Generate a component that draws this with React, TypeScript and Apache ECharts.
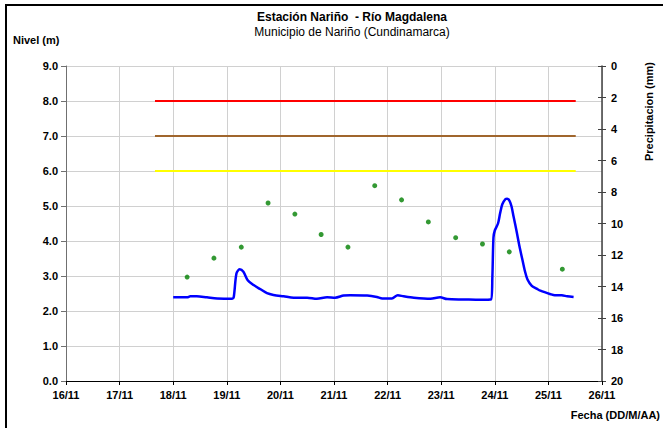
import React, { useEffect, useRef } from "react";
import * as echarts from "echarts";

// X axis: day of November (16 = 16/11 00:00)
const xTickDays = [16, 17, 18, 19, 20, 21, 22, 23, 24, 25, 26];
const xTickLabels = ["16/11", "17/11", "18/11", "19/11", "20/11", "21/11", "22/11", "23/11", "24/11", "25/11", "26/11"];

// River level (m)
const levelTimes = [
  18.0, 18.26, 18.32, 18.44, 18.63, 18.82, 19.1, 19.13, 19.18, 19.24, 19.31, 19.39, 19.5, 19.63,
  19.75, 19.87, 20.06, 20.25, 20.5, 20.68, 20.87, 21.02, 21.18, 21.3, 21.62, 21.8, 21.9, 22.08,
  22.19, 22.3, 22.49, 22.8, 22.98, 23.11, 23.42, 23.73, 23.93, 23.955, 23.975, 24.0, 24.06, 24.1,
  24.14, 24.2, 24.23, 24.27, 24.31, 24.35, 24.41, 24.46, 24.51, 24.56, 24.61, 24.69, 24.78, 24.85,
  25.04, 25.12, 25.25, 25.35, 25.47,
];
const levelValues = [
  2.39, 2.39, 2.42, 2.42, 2.39, 2.36, 2.35, 2.4, 3.07, 3.19, 3.12, 2.88, 2.74, 2.62,
  2.51, 2.46, 2.42, 2.38, 2.38, 2.35, 2.39, 2.38, 2.44, 2.45, 2.44, 2.4, 2.36, 2.36,
  2.45, 2.42, 2.38, 2.35, 2.39, 2.34, 2.33, 2.32, 2.33, 3.0, 4.1, 4.3, 4.5, 4.8,
  5.05, 5.2, 5.21, 5.16, 5.0, 4.7, 4.25, 3.85, 3.5, 3.15, 2.9, 2.72, 2.64, 2.58,
  2.48, 2.45, 2.45, 2.42, 2.4,
];

// Precipitation (mm), right axis (inverted)
const rainTimes = [18.26, 18.76, 19.27, 19.77, 20.27, 20.76, 21.26, 21.76, 22.26, 22.76, 23.27, 23.77, 24.27, 25.26];
const rainValues = [13.4, 12.2, 11.5, 8.7, 9.4, 10.7, 11.5, 7.6, 8.5, 9.9, 10.9, 11.3, 11.8, 12.9];

// Alert thresholds (m)
const thresholdSpan = [17.66, 25.51];
const thresholdLevels = [8.0, 7.0, 6.0];
const thresholdNames = ["Alerta roja", "Alerta naranja", "Alerta amarilla"];
const thresholdColors = ["#ff0000", "#a0662d", "#ffff00"];

const FONT = "'Liberation Sans', Arial, sans-serif";

export default function App() {
  const ref = useRef<HTMLDivElement>(null);
  useEffect(() => {
    document.body.style.margin = "0";
    const chart = echarts.init(ref.current!, null, { renderer: "svg" });
    const gridLeft = 66, gridRight = 61, gridTop = 66, gridBottom = 47;

    const thresholdSeries = thresholdLevels.map((lv, i) => ({
      name: thresholdNames[i],
      type: "line",
      xAxisIndex: 0,
      yAxisIndex: 0,
      symbol: "none",
      lineStyle: { color: thresholdColors[i], width: 2 },
      data: thresholdSpan.map((t) => [t, lv]),
      z: 3,
    }));

    chart.setOption({
      animation: false,
      textStyle: { fontFamily: FONT },
      grid: { left: gridLeft, right: gridRight, top: gridTop, bottom: gridBottom, containLabel: false },
      xAxis: {
        type: "value",
        min: 16,
        max: 26,
        interval: 1,
        axisLine: { show: true, lineStyle: { color: "#000", width: 1 } },
        axisTick: { show: true, length: 4, lineStyle: { color: "#000" } },
        axisLabel: {
          color: "#000",
          fontWeight: "bold",
          fontSize: 11,
          fontFamily: FONT,
          margin: 8,
          formatter: (v: number) => xTickLabels[xTickDays.indexOf(Math.round(v))] ?? "",
        },
        splitLine: { show: true, lineStyle: { color: "#d0d0d0", width: 1 } },
      },
      yAxis: [
        {
          type: "value",
          min: 0,
          max: 9,
          interval: 1,
          position: "left",
          axisLine: { show: true, lineStyle: { color: "#707070", width: 1 } },
          axisTick: { show: true, length: 5, lineStyle: { color: "#707070" } },
          axisLabel: {
            color: "#000",
            fontWeight: "bold",
            fontSize: 11,
            fontFamily: FONT,
            margin: 8,
            formatter: (v: number) => v.toFixed(1),
          },
          splitLine: { show: true, lineStyle: { color: "#d0d0d0", width: 1 } },
        },
        {
          type: "value",
          min: 0,
          max: 20,
          interval: 2,
          inverse: true,
          position: "right",
          axisLine: { show: true, lineStyle: { color: "#404040", width: 1.5 } },
          axisTick: { show: true, length: 4, lineStyle: { color: "#404040" } },
          axisLabel: { color: "#000", fontWeight: "bold", fontSize: 11, fontFamily: FONT, margin: 9 },
          splitLine: { show: false },
        },
        {
          type: "value",
          min: 0,
          max: 20,
          interval: 2,
          inverse: true,
          position: "right",
          axisLine: { show: false },
          axisTick: { show: true, inside: true, length: 4, lineStyle: { color: "#404040" } },
          axisLabel: { show: false },
          splitLine: { show: false },
        },
      ],
      series: [
        ...thresholdSeries,
        {
          name: "Nivel",
          type: "line",
          xAxisIndex: 0,
          yAxisIndex: 0,
          symbol: "none",
          smooth: 0.3,
          lineStyle: { color: "#0000ff", width: 2.5 },
          data: levelTimes.map((t, i) => [t, levelValues[i]]),
          z: 4,
        },
        {
          name: "Precipitacion",
          type: "scatter",
          xAxisIndex: 0,
          yAxisIndex: 1,
          symbol: "circle",
          symbolSize: 5,
          itemStyle: { color: "#008000" },
          data: rainTimes.map((t, i) => [t, rainValues[i]]),
          z: 5,
        },
      ],
      graphic: [
        {
          type: "polyline",
          shape: { points: [[6, 440], [6, 5], [670, 5]] },
          style: { stroke: "#000", lineWidth: 2, fill: "none" },
          silent: true,
        },
        {
          type: "text",
          x: 352,
          y: 17,
          style: { text: "Estación Nariño  - Río Magdalena", font: `bold 12px ${FONT}`, fill: "#000", textAlign: "center", textVerticalAlign: "middle" },
        },
        {
          type: "text",
          x: 352,
          y: 32,
          style: { text: "Municipio de Nariño (Cundinamarca)", font: `12px ${FONT}`, fill: "#000", textAlign: "center", textVerticalAlign: "middle" },
        },
        {
          type: "text",
          x: 13,
          y: 40,
          style: { text: "Nivel (m)", font: `bold 11px ${FONT}`, fill: "#000", textAlign: "left", textVerticalAlign: "middle" },
        },
        {
          type: "text",
          x: 660,
          y: 415,
          style: { text: "Fecha (DD/M/AA)", font: `bold 11px ${FONT}`, fill: "#000", textAlign: "right", textVerticalAlign: "middle" },
        },
        {
          type: "text",
          x: 649,
          y: 62,
          rotation: Math.PI / 2,
          style: { text: "Precipitacion (mm)", font: `bold 11px ${FONT}`, fill: "#000", textAlign: "right", textVerticalAlign: "middle" },
        },
      ],
    });
    return () => chart.dispose();
  }, []);
  return <div ref={ref} style={{ width: 663, height: 428 }} />;
}
